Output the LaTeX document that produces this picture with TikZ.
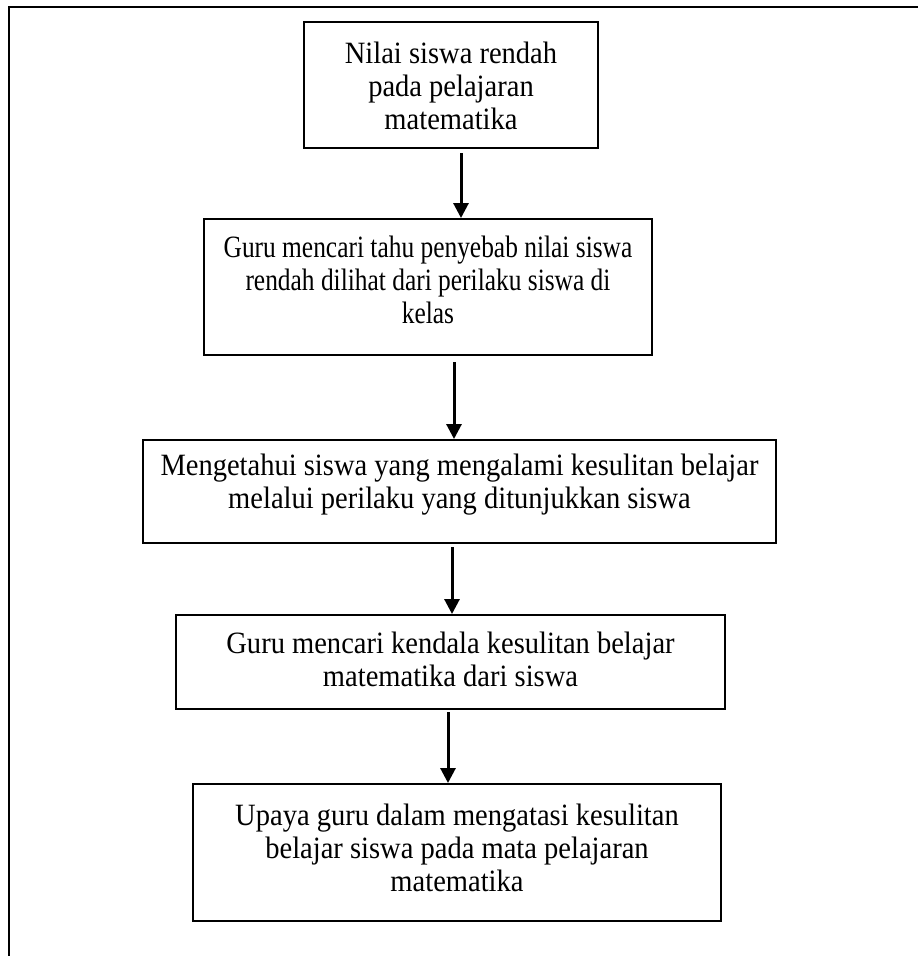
\documentclass[tikz,border=0pt]{standalone}
\usepackage{fontspec}
\setmainfont{Liberation Serif}
\newfontfamily\txtfont{Liberation Serif}[FakeStretch=0.92]
\newfontfamily\txtnarrow{Liberation Serif}[FakeStretch=0.82]
\usetikzlibrary{arrows.meta}
\begin{document}
\begin{tikzpicture}[x=1pt,y=-1pt,
  box/.style={draw,line width=2pt,inner sep=0pt},
  txt/.style={inner sep=0pt,align=center,font=\txtfont\fontsize{31}{33}\selectfont},
  arr/.style={line width=3pt,-{Triangle[width=15pt,length=15pt]}},
  frame/.style={line width=2.5pt}]
\useasboundingbox (0,0) rectangle (918,956);
\draw[frame] (9,956) -- (9,7) -- (918,7);
\node[box,minimum width=294pt,minimum height=126pt] (b1) at (451,85) {};
\node[txt] (t1) at ([yshift=-1pt]b1.center)
  {Nilai siswa rendah\\pada pelajaran\\matematika};
\node[box,minimum width=448pt,minimum height=136pt] (b2) at (428,287) {};
\node[txt,font=\txtnarrow\fontsize{31}{33}\selectfont] (t2) at ([yshift=7pt]b2.center)
  {Guru mencari tahu penyebab nilai siswa\\rendah dilihat dari perilaku siswa di\\kelas};
\node[box,minimum width=633pt,minimum height=103pt] (b3) at (459.5,491.5) {};
\node[txt] (t3) at ([yshift=7pt]b3.center)
  {Mengetahui siswa yang mengalami kesulitan belajar\\melalui perilaku yang ditunjukkan siswa};
\node[box,minimum width=549pt,minimum height=94pt] (b4) at (450.5,662) {};
\node[txt] (t4) at ([yshift=3pt]b4.center)
  {Guru mencari kendala kesulitan belajar\\matematika dari siswa};
\node[box,minimum width=528pt,minimum height=137pt] (b5) at (457,852.5) {};
\node[txt] (t5) at ([yshift=5pt]b5.center)
  {Upaya guru dalam mengatasi kesulitan\\belajar siswa pada mata pelajaran\\matematika};
\coordinate (a1) at (461,153);
\coordinate (a2) at (454,362);
\coordinate (a3) at (452,547);
\coordinate (a4) at (448,712);
\draw[arr] (a1) -- (a1 |- b2.north);
\draw[arr] (a2) -- (a2 |- b3.north);
\draw[arr] (a3) -- (a3 |- b4.north);
\draw[arr] (a4) -- (a4 |- b5.north);
\end{tikzpicture}
\end{document}
